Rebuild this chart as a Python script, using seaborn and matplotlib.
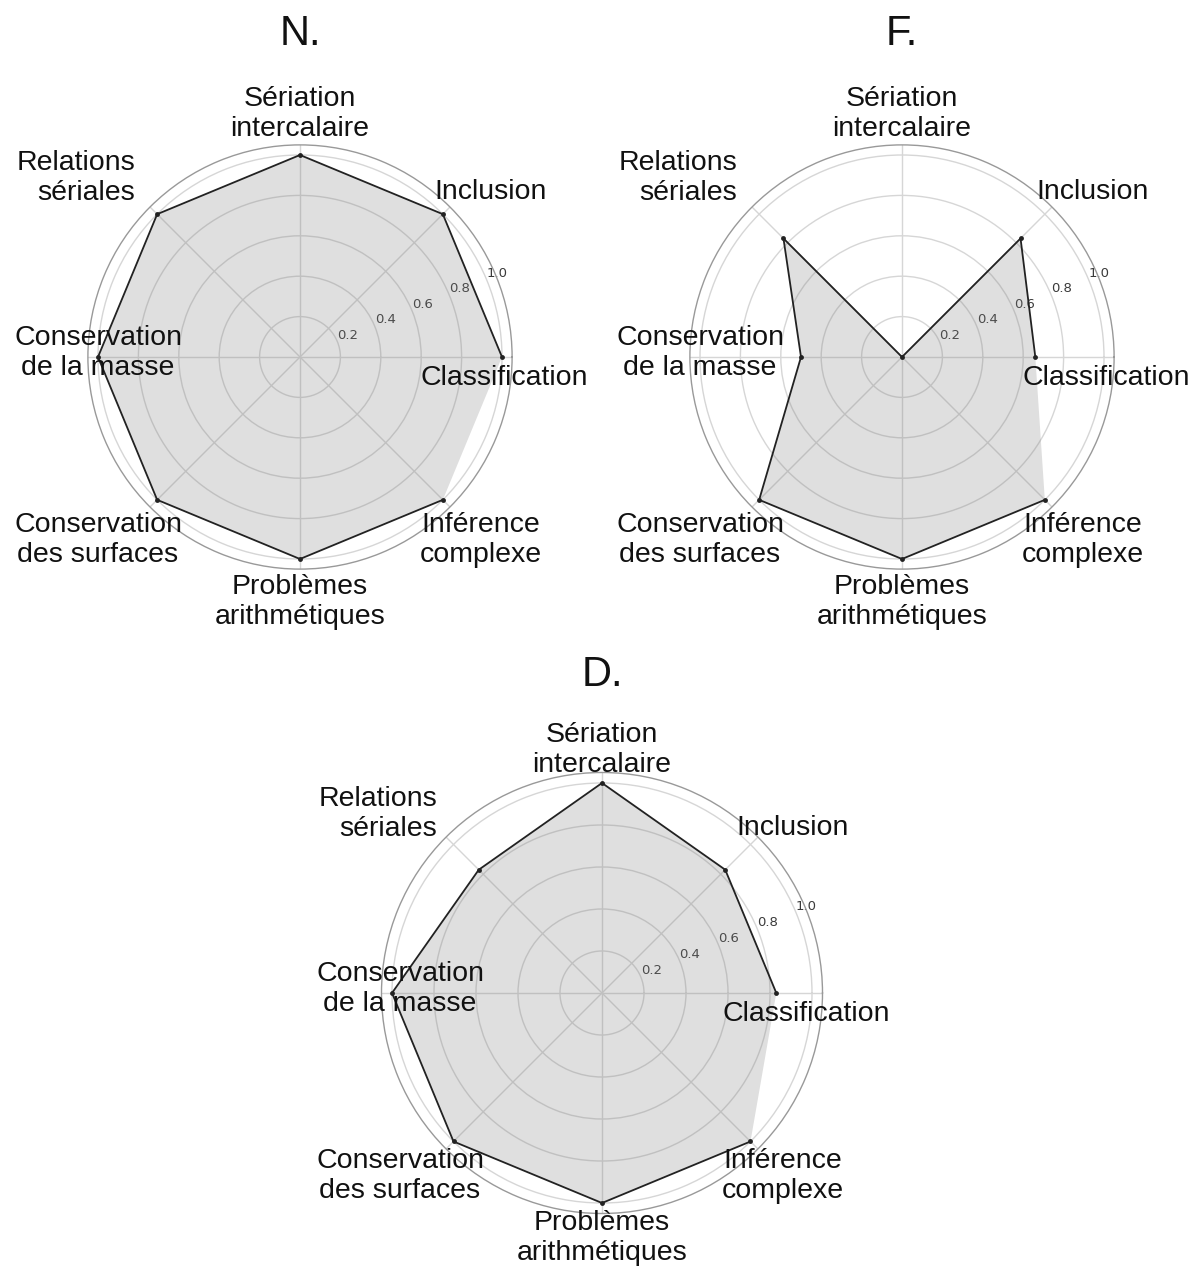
import numpy as np
import matplotlib
matplotlib.use('Agg')
import matplotlib.pyplot as plt
import seaborn as sns

# categories (counter-clockwise from 3 o'clock)
categories = ['Classification', 'Inclusion', 'Sériation\nintercalaire', 'Relations\nsériales',
              'Conservation\nde la masse', 'Conservation\ndes surfaces',
              'Problèmes\narithmétiques', 'Inférence\ncomplexe']

# scores per group
scores_N = [1.0, 1.0, 1.0, 1.0, 1.0, 1.0, 1.0, 1.0]
scores_F = [0.66, 0.83, 0.0, 0.83, 0.5, 1.0, 1.0, 1.0]
scores_D = [0.83, 0.83, 1.0, 0.83, 1.0, 1.0, 1.0, 1.0]

panel_titles = ['N.', 'F.', 'D.']
r_ticks = [0.2, 0.4, 0.6, 0.8, 1.0]
r_tick_labels = ['0.2', '0.4', '0.6', '0.8', '1.0']

sns.set_style('white')
plt.rcParams['font.family'] = ['Liberation Sans', 'DejaVu Sans']

angles = np.linspace(0, 2 * np.pi, len(categories), endpoint=False)

# label placement: pixel offset of label centre from the polar centre, alignment
label_pos = [(204, -21, 'center'), (191, 165, 'center'), (0, 243, 'center'),
             (-165, 179, 'right'), (-202, 4, 'center'), (-202, -183, 'center'),
             (0, -245, 'center'), (181, -183, 'center')]


def radar(ax, values, title, title_xy):
    ax.set_ylim(0, 1.05)
    ax.set_xticks(angles)
    ax.set_xticklabels([])
    ax.set_yticks(r_ticks)
    ax.set_yticklabels(r_tick_labels, fontsize=9.5, color='#3a3a3a', family='DejaVu Sans')
    ax.set_rlabel_position(22.5)
    ax.grid(True, color='#d6d6d6', linewidth=1.0)
    ax.spines['polar'].set_color('#999999')
    ax.spines['polar'].set_linewidth(1.0)

    ax.fill(angles, values, color='grey', alpha=0.25, linewidth=0, zorder=2)
    sns.lineplot(x=angles, y=values, ax=ax, color='#222222', linewidth=1.3,
                 marker='o', markersize=3.5, markeredgewidth=0, sort=False, zorder=3)
    ax.set_xlabel('')
    ax.set_ylabel('')

    for lab, (dx, dy, ha) in zip(categories, label_pos):
        ax.annotate(lab, xy=(0, 0), xycoords='data', xytext=(dx, dy),
                    textcoords='offset pixels', ha=ha, va='center',
                    fontsize=20.5, color='#111111', zorder=5, annotation_clip=False)

    fig.text(title_xy[0], title_xy[1], title, ha='center', va='center', fontsize=30, color='#111111')


fig = plt.figure(figsize=(11.99, 12.68), dpi=100)
W, H = 1199, 1268


def polar_axes(cx, cy, R):
    outer = R * 1.05
    return fig.add_axes([(cx - outer) / W, (H - cy - outer) / H, 2 * outer / W, 2 * outer / H],
                        projection='polar')


axN = polar_axes(300, 357, 202)
axF = polar_axes(902, 357, 202)
axD = polar_axes(602, 993, 210)

radar(axN, scores_N, panel_titles[0], (300 / W, 1 - 34 / H))
radar(axF, scores_F, panel_titles[1], (902 / W, 1 - 34 / H))
radar(axD, scores_D, panel_titles[2], (602 / W, 1 - 675 / H))

fig.savefig('out.png', dpi=100)
